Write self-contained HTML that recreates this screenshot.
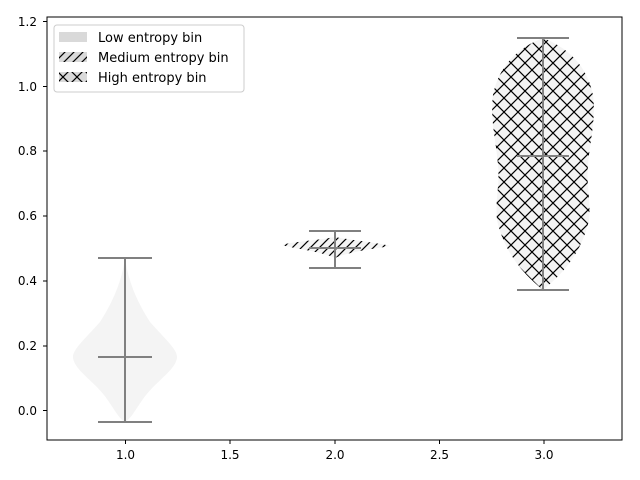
<!DOCTYPE html>
<html><head><meta charset="utf-8"><style>body{margin:0;background:#fff}svg{display:block;font-family:"DejaVu Sans","Liberation Sans",sans-serif}</style></head><body>
<svg width="640" height="480" viewBox="0 0 640 480" xmlns="http://www.w3.org/2000/svg">
<defs>
<pattern id="d" width="9" height="9" patternUnits="userSpaceOnUse"><path d="M-1,10 L10,-1 M-1,1 L1,-1 M8,10 L10,8" stroke="#000" stroke-width="1.2"/></pattern>
<pattern id="x" width="14" height="14" patternUnits="userSpaceOnUse"><path d="M0,0 L14,14 M14,0 L0,14" stroke="#000" stroke-width="1.2"/></pattern>
</defs>
<rect x="47" y="17" width="575" height="423" fill="none" stroke="#000"/>
<path d="M125,258 C122,280 114,300 100,322 C84,340 72,350 73,358 C75,370 92,380 104,395 C114,408 118,418 125,422 C132,418 136,408 146,395 C158,380 175,370 177,358 C178,350 166,340 150,322 C136,300 128,280 125,258Z" fill="#f4f4f4"/>
<path d="M335,237 C320,240 290,242 282,245 C290,248 320,251 335,258 C350,251 380,248 390,246 C380,243 350,240 335,237Z" fill="#f4f4f4"/>
<path d="M335,237 C320,240 290,242 282,245 C290,248 320,251 335,258 C350,251 380,248 390,246 C380,243 350,240 335,237Z" fill="url(#d)"/>
<path d="M543,38 C525,45 500,60 493,95 C490,120 496,140 498,165 C500,185 495,200 497,220 C505,255 525,275 543,290 C561,275 581,255 589,220 C591,200 586,185 588,165 C590,140 596,120 593,95 C586,60 561,45 543,38Z" fill="#f4f4f4"/>
<path d="M543,38 C525,45 500,60 493,95 C490,120 496,140 498,165 C500,185 495,200 497,220 C505,255 525,275 543,290 C561,275 581,255 589,220 C591,200 586,185 588,165 C590,140 596,120 593,95 C586,60 561,45 543,38Z" fill="url(#x)"/>
<g stroke="#808080" stroke-width="2">
<path d="M125,258V422M98,258H152M98,422H152M98,357H152"/>
<path d="M335,231V268M309,231H361M309,268H361M309,248H361"/>
<path d="M543,38V290M517,38H569M517,290H569M517,156H569"/>
</g>
<g font-size="12" fill="#000" text-anchor="end">
<text x="37" y="26">1.2</text><text x="37" y="91">1.0</text><text x="37" y="155">0.8</text><text x="37" y="220">0.6</text><text x="37" y="285">0.4</text><text x="37" y="350">0.2</text><text x="37" y="415">0.0</text>
</g>
<g stroke="#000"><path d="M43,21.5H47M43,86.5H47M43,151H47M43,216H47M43,281H47M43,346H47M43,410.5H47M125.5,440V444M230,440V444M335,440V444M439.5,440V444M544,440V444"/></g>
<g font-size="12" fill="#000" text-anchor="middle">
<text x="125.5" y="459">1.0</text><text x="230" y="459">1.5</text><text x="335" y="459">2.0</text><text x="439.5" y="459">2.5</text><text x="544" y="459">3.0</text>
</g>
<rect x="54" y="25" width="190" height="67" rx="3" fill="#fff" fill-opacity="0.8" stroke="#ccc"/>
<rect x="59" y="32" width="28" height="10" fill="#d9d9d9"/>
<rect x="59" y="52" width="28" height="10" fill="#d9d9d9"/><rect x="59" y="52" width="28" height="10" fill="url(#d)"/>
<rect x="59" y="72" width="28" height="10" fill="#d9d9d9"/><rect x="59" y="72" width="28" height="10" fill="url(#x)"/>
<g font-size="13" fill="#000"><text x="98" y="42">Low entropy bin</text><text x="98" y="62">Medium entropy bin</text><text x="98" y="82">High entropy bin</text></g>
</svg>
</body></html>
